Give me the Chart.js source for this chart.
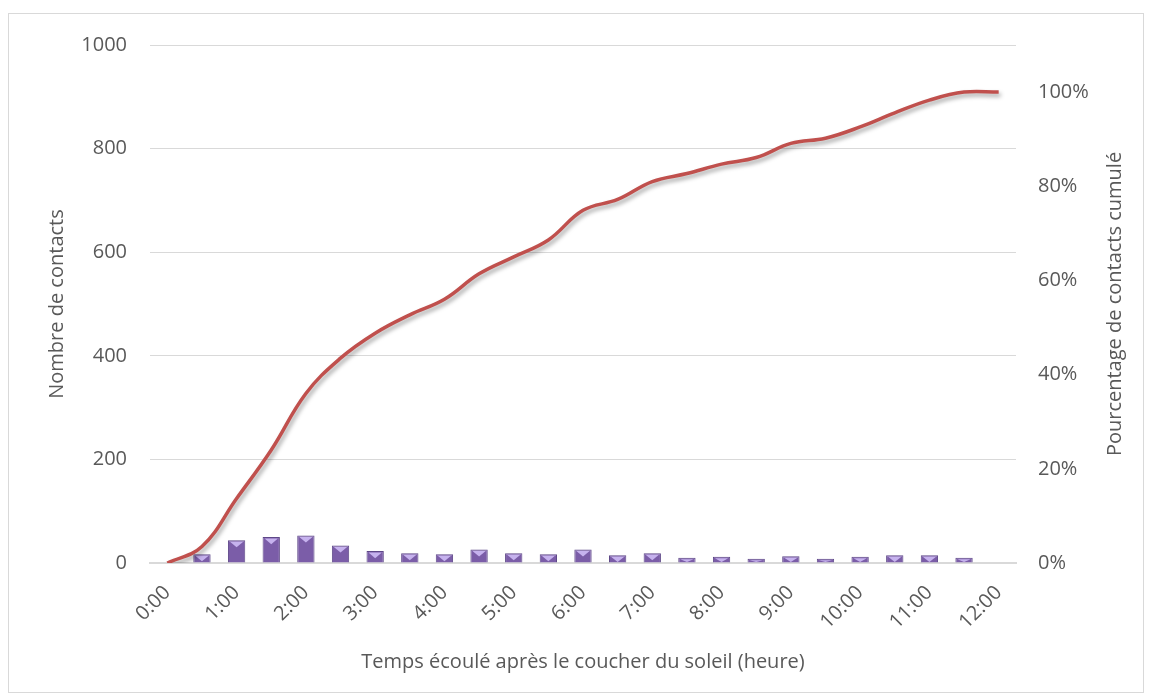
<!DOCTYPE html>
<html>
<head>
<meta charset="utf-8">
<script src="https://cdn.jsdelivr.net/npm/chart.js@4"></script>
<style>
  body { margin: 0; background: #fff; }
  #frame { position: absolute; left: 8px; top: 13px; width: 1134px; height: 678px; border: 1.5px solid #d9d9d9; }
  #wrap { position: absolute; left: 0; top: 0; width: 1153px; height: 700px; }
</style>
</head>
<body>
<div id="frame"></div>
<div id="wrap"><canvas id="chart"></canvas></div>
<script>
// half-hour steps after sunset
const timeLabels = ["0:00", "0:30", "1:00", "1:30", "2:00", "2:30", "3:00", "3:30", "4:00", "4:30",
  "5:00", "5:30", "6:00", "6:30", "7:00", "7:30", "8:00", "8:30", "9:00", "9:30",
  "10:00", "10:30", "11:00", "11:30", "12:00"];

// number of contacts per half hour (bars, left axis)
const contactCounts = [null, 17, 44, 50, 53, 34, 23, 19, 17, 26, 19, 17, 26, 15, 19, 10, 12, 8, 13, 8, 12, 15, 15, 10, null];

// cumulative share of contacts in % (line, right axis)
const cumulativePct = [0, 3.5, 13.7, 24, 36, 43.5, 48.8, 52.7, 56, 61.4, 65, 68.6, 74.9, 77.2, 81, 82.7,
  84.7, 86.1, 89.1, 90.2, 92.6, 95.6, 98.3, 100, 100];

const xTitle = "Temps écoulé après le coucher du soleil (heure)";
const leftTitle = "Nombre de contacts";
const rightTitle = "Pourcentage de contacts cumulé";

const textColor = "#595959";
const gridColor = "#d9d9d9";
const fontFamily = "'Open Sans', sans-serif";

// soft shadow under the line, like the Excel effect
const shadowPlugin = {
  id: "lineShadow",
  beforeDatasetDraw(chart, args) {
    if (args.meta.type !== "line") return;
    const ctx = chart.ctx;
    ctx.save();
    ctx.shadowColor = "rgba(0,0,0,0.35)";
    ctx.shadowBlur = 4;
    ctx.shadowOffsetX = 2;
    ctx.shadowOffsetY = 3;
  },
  afterDatasetDraw(chart, args) {
    if (args.meta.type !== "line") return;
    chart.ctx.restore();
  }
};

// light triangle on top of each bar (bevel look)
const bevelPlugin = {
  id: "barBevel",
  afterDatasetDraw(chart, args) {
    if (args.meta.type !== "bar") return;
    const ctx = chart.ctx;
    ctx.save();
    args.meta.data.forEach(bar => {
      const p = bar.getProps(["x", "y", "base", "width"], true);
      if (p.y == null || isNaN(p.y)) return;
      const h = p.base - p.y;
      if (h < 3) return;
      const th = Math.min(h - 2, p.width * 0.32);
      ctx.beginPath();
      ctx.moveTo(p.x - p.width / 2 + 2, p.y + 1.5);
      ctx.lineTo(p.x + p.width / 2 - 2, p.y + 1.5);
      ctx.lineTo(p.x, p.y + 1.5 + th);
      ctx.closePath();
      ctx.fillStyle = "#c6b2ee";
      ctx.fill();
    });
    ctx.restore();
  }
};

// right axis title reads bottom to top in the reference
const rightTitlePlugin = {
  id: "rightTitle",
  afterDraw(chart) {
    const ctx = chart.ctx;
    const area = chart.chartArea;
    ctx.save();
    ctx.translate(1115, (area.top + area.bottom) / 2);
    ctx.rotate(-Math.PI / 2);
    ctx.textAlign = "center";
    ctx.textBaseline = "middle";
    ctx.font = "20px " + fontFamily;
    ctx.fillStyle = textColor;
    ctx.fillText(rightTitle, 0, 0);
    ctx.restore();
  }
};

const ctx = document.getElementById("chart").getContext("2d");
new Chart(ctx, {
  data: {
    labels: timeLabels,
    datasets: [
      {
        type: "line",
        label: "Pourcentage cumulé",
        data: cumulativePct.map(v => v / 100),
        yAxisID: "y1",
        borderColor: "#c0504d",
        borderWidth: 3.5,
        pointRadius: 0,
        tension: 0.4,
        order: 0
      },
      {
        type: "bar",
        label: "Nombre de contacts",
        data: contactCounts,
        yAxisID: "y",
        backgroundColor: "#7b5da8",
        borderColor: "#5e4888",
        borderWidth: 1,
        categoryPercentage: 1,
        barPercentage: 0.5,
        order: 1
      }
    ]
  },
  options: {
    responsive: true,
    maintainAspectRatio: false,
    animation: false,
    layout: { padding: { top: 45, left: 0, right: 0, bottom: 0 } },
    plugins: {
      legend: { display: false },
      tooltip: { enabled: false }
    },
    scales: {
      x: {
        offset: true,
        grid: { display: false },
        border: { color: gridColor, width: 2 },
        ticks: {
          color: textColor,
          font: { family: fontFamily, size: 20 },
          autoSkip: false,
          minRotation: 45,
          maxRotation: 45,
          padding: 10,
          callback: (v, i) => (i % 2 === 0 ? timeLabels[i] : "")
        },
        title: {
          display: true,
          text: xTitle,
          color: textColor,
          font: { family: fontFamily, size: 20 },
          padding: { top: 0, bottom: 26 }
        },
        afterFit: s => { s.height = 137; }
      },
      y: {
        position: "left",
        min: 0,
        max: 1000,
        ticks: {
          stepSize: 200,
          color: textColor,
          font: { family: fontFamily, size: 20 },
          padding: 23,
          callback: v => String(v)
        },
        grid: { color: gridColor, drawTicks: false },
        border: { display: false },
        title: {
          display: true,
          text: leftTitle,
          color: textColor,
          font: { family: fontFamily, size: 20 },
          padding: { top: 45, bottom: 0 }
        },
        afterFit: s => { s.width = 150; }
      },
      y1: {
        position: "right",
        min: 0,
        max: 1.1,
        ticks: {
          stepSize: 0.2,
          color: textColor,
          font: { family: fontFamily, size: 20 },
          padding: 22,
          callback: v => {
            const pct = Math.round(v * 100);
            return pct % 20 === 0 ? pct + "%" : "";
          }
        },
        grid: { display: false, drawTicks: false },
        border: { display: false },
        afterFit: s => { s.width = 137; }
      }
    }
  },
  plugins: [shadowPlugin, bevelPlugin, rightTitlePlugin]
});
</script>
</body>
</html>
